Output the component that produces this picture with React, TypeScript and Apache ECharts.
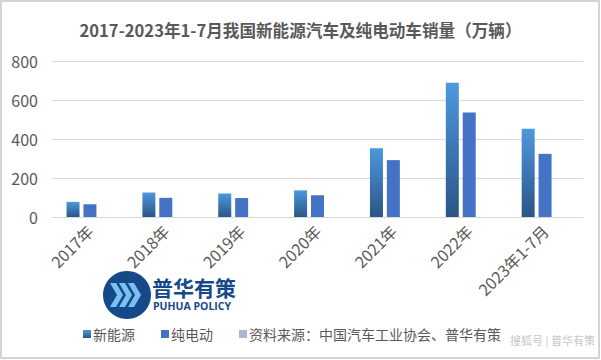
import React, { useEffect, useRef } from "react";
import * as echarts from "echarts";

const titleText = "2017-2023年1-7月我国新能源汽车及纯电动车销量（万辆）";
const categories = ["2017年", "2018年", "2019年", "2020年", "2021年", "2022年", "2023年1-7月"];
const nevSales = [77.7, 125.6, 120.6, 136.7, 352.1, 688.7, 452.6];
const bevSales = [65.2, 98.4, 97.2, 111.5, 291.6, 536.5, 323.8];
const sourceNote = "资料来源：中国汽车工业协会、普华有策";
const sourceValues: number[] = [];
const seriesNames = ["新能源", "纯电动", sourceNote];
const yMin = 0;
const yMax = 800;
const yInterval = 200;

export default function App() {
  const ref = useRef<HTMLDivElement>(null);
  useEffect(() => {
    if (!ref.current) return;
    const chart = echarts.init(ref.current, undefined, { renderer: "svg" });
    const font = "'Noto Sans CJK SC', 'Noto Sans', sans-serif";
    const chevrons: any[] = [];
    for (let i = 0; i < 3; i++) {
      const x0 = 110 + i * 9;
      const y0 = 295;
      chevrons.push({
        type: "polygon",
        shape: {
          points: [
            [x0, y0 - 12],
            [x0 + 6, y0 - 12],
            [x0 + 13, y0],
            [x0 + 6, y0 + 12],
            [x0, y0 + 12],
            [x0 + 7, y0],
          ],
        },
        style: { fill: "#7cc0f0" },
        z: 101,
      });
    }
    chart.setOption({
      animation: false,
      backgroundColor: "#ffffff",
      textStyle: { fontFamily: font },
      title: {
        text: titleText,
        left: "center",
        top: 17,
        textStyle: { fontSize: 16.6, fontWeight: "bold", color: "#595959", fontFamily: font },
      },
      grid: { left: 52, right: 18, top: 61, bottom: 143, containLabel: false },
      legend: {
        data: seriesNames,
        left: 78,
        top: 322,
        icon: "rect",
        itemWidth: 8,
        itemHeight: 8,
        itemGap: 26,
        textStyle: { fontSize: 14, color: "#595959", fontFamily: font, padding: [0, 0, 0, -3] },
      },
      xAxis: {
        type: "category",
        data: categories,
        axisLine: { lineStyle: { color: "#d9d9d9" } },
        axisTick: { show: false },
        axisLabel: { rotate: 45, interval: 0, fontSize: 16, color: "#595959", margin: 11, fontFamily: font },
      },
      yAxis: {
        type: "value",
        min: yMin,
        max: yMax,
        interval: yInterval,
        axisLine: { show: false },
        axisTick: { show: false },
        axisLabel: { fontSize: 16, color: "#595959", margin: 14, fontFamily: font },
        splitLine: { lineStyle: { color: "#d9d9d9" } },
      },
      series: [
        {
          name: seriesNames[0],
          type: "bar",
          data: nevSales,
          barWidth: 13,
          barGap: "30%",
          itemStyle: {
            color: new echarts.graphic.LinearGradient(0, 0, 0, 1, [
              { offset: 0, color: "#4d98de" },
              { offset: 1, color: "#2b5587" },
            ]),
          },
        },
        {
          name: seriesNames[1],
          type: "bar",
          data: bevSales,
          barWidth: 13,
          barGap: "30%",
          itemStyle: { color: "#4472c4" },
        },
        {
          name: seriesNames[2],
          type: "bar",
          data: sourceValues,
          barWidth: 13,
          barGap: "30%",
          itemStyle: { color: "#a9b6d8" },
        },
      ],
      graphic: [
        {
          type: "rect",
          shape: { x: 1, y: 1, width: 598, height: 357 },
          style: { fill: "none", stroke: "#d4d4d4", lineWidth: 2 },
          silent: true,
        },
        {
          type: "circle",
          shape: { cx: 127, cy: 295, r: 24 },
          style: { fill: "#16498a" },
          z: 100,
        },
        ...chevrons,
        {
          type: "text",
          x: 152,
          y: 287,
          style: {
            text: "普华有策",
            font: `bold 21px ${font}`,
            fill: "#16498a",
            verticalAlign: "middle",
          },
          z: 100,
        },
        {
          type: "text",
          x: 153,
          y: 306,
          style: {
            text: "PUHUA POLICY",
            font: `bold 10.5px 'Open Sans', sans-serif`,
            fill: "#16498a",
            verticalAlign: "middle",
          },
          z: 100,
        },
        {
          type: "text",
          x: 510,
          y: 340,
          style: {
            text: "搜狐号 | 普华有策",
            font: `11px ${font}`,
            fill: "rgba(170,170,170,0.7)",
            verticalAlign: "middle",
          },
          z: 100,
        },
      ],
    });
    return () => chart.dispose();
  }, []);
  return (
    <div
      ref={ref}
      style={{ position: "fixed", left: 0, top: 0, width: 601, height: 360 }}
    />
  );
}
